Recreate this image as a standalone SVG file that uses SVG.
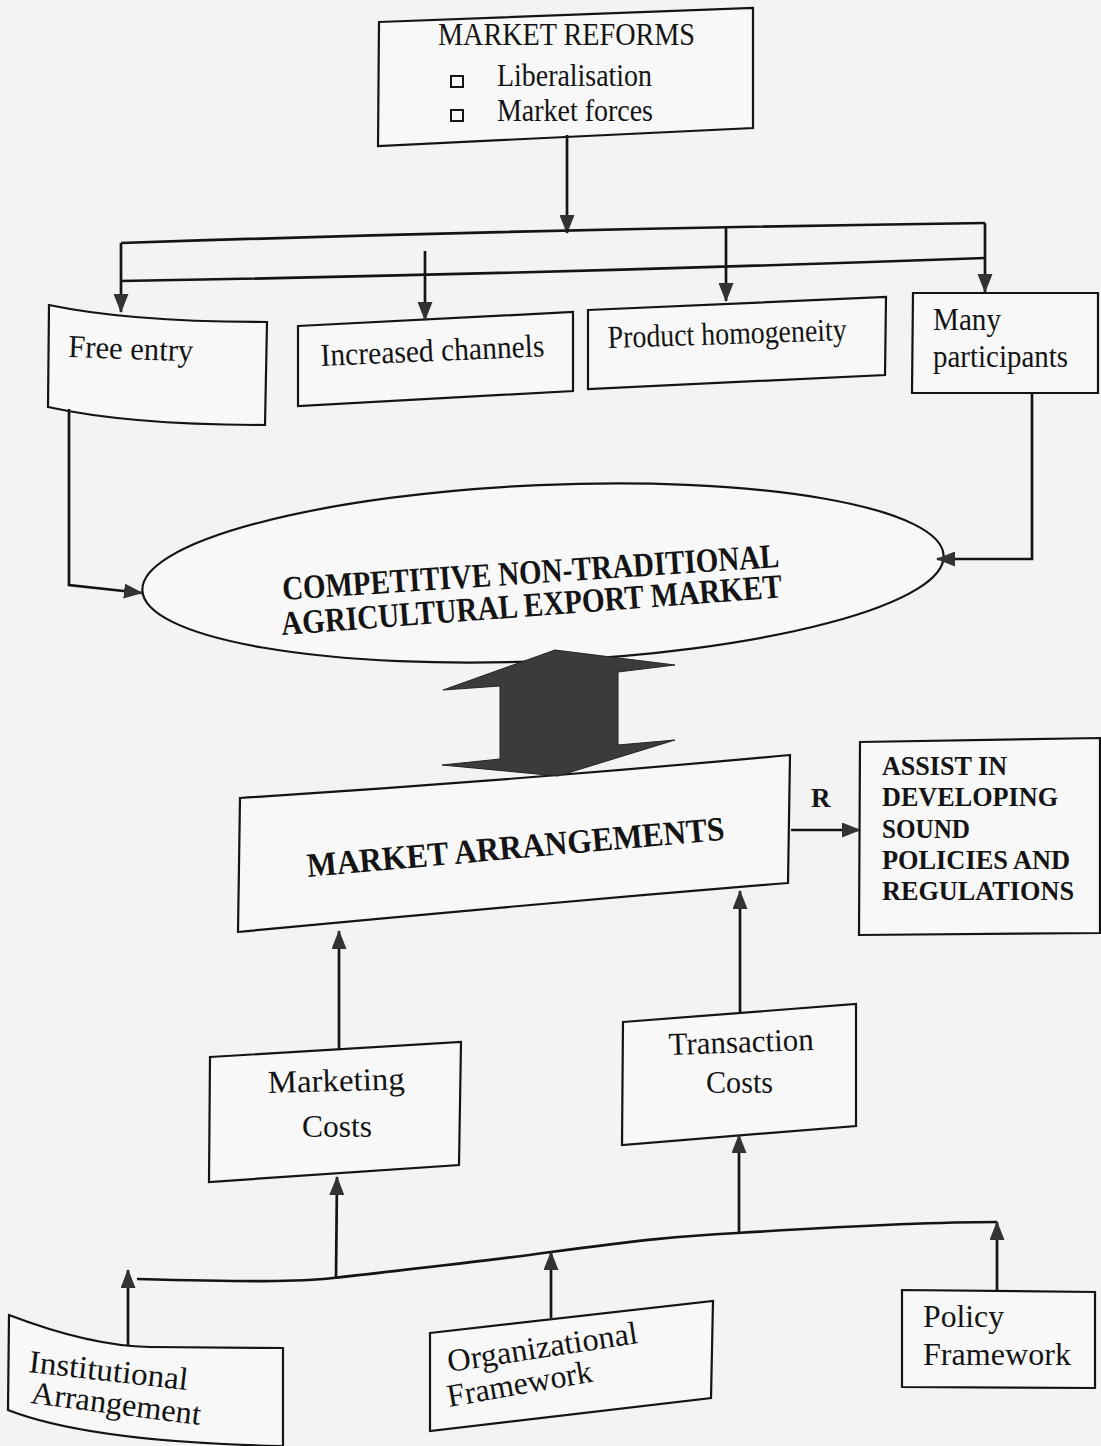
<svg xmlns="http://www.w3.org/2000/svg" width="1101" height="1446" viewBox="0 0 1101 1446">
<defs>
<marker id="ah" markerUnits="userSpaceOnUse" markerWidth="19" markerHeight="15" viewBox="0 0 19 15" refX="18" refY="7.5" orient="auto">
<path d="M0,0 L19,7.5 L0,15 z" fill="#333"/>
</marker>
<style>
.box{fill:#f8f8f8;stroke:#141414;stroke-width:2.2;stroke-linejoin:miter}
.t{font-family:"Liberation Serif","Times New Roman",serif;font-size:32px;fill:#141414}
.b{font-family:"Liberation Serif","Times New Roman",serif;font-weight:bold;fill:#141414}
.c{fill:none;stroke:#141414;stroke-width:2.7}
.a{fill:none;stroke:#141414;stroke-width:2.7;marker-end:url(#ah)}
</style>
</defs>
<rect x="0" y="0" width="1101" height="1446" fill="#f3f3f3"/>

<g id="market-reforms">
<polygon class="box" points="379,22 753,8 753,128 378,146"/>
<text class="t" x="438" y="45" font-size="30" textLength="257" lengthAdjust="spacingAndGlyphs">MARKET REFORMS</text>
<rect x="451" y="76" width="12" height="11" fill="none" stroke="#141414" stroke-width="2"/>
<rect x="451" y="110" width="12" height="11" fill="none" stroke="#141414" stroke-width="2"/>
<text class="t" x="497" y="86" font-size="30" textLength="155" lengthAdjust="spacingAndGlyphs">Liberalisation</text>
<text class="t" x="497" y="121" font-size="30" textLength="156" lengthAdjust="spacingAndGlyphs">Market forces</text>
</g>

<g id="free-entry">
<path class="box" d="M49,305 Q130,322 267,322 L265,425 Q130,425 48,407 Z"/>
<text class="t" x="68" y="357" font-size="35" textLength="125" lengthAdjust="spacingAndGlyphs" transform="rotate(2 68 357)">Free entry</text>
</g>

<g id="increased-channels">
<polygon class="box" points="298,326 573,312 573,391 298,406"/>
<text class="t" x="321" y="366" font-size="32" textLength="224" lengthAdjust="spacingAndGlyphs" transform="rotate(-2.5 321 366)">Increased channels</text>
</g>

<g id="product-homogeneity">
<polygon class="box" points="588,310 886,297 885,375 588,389"/>
<text class="t" x="608" y="348" font-size="31" textLength="239" lengthAdjust="spacingAndGlyphs" transform="rotate(-1.9 608 348)">Product homogeneity</text>
</g>

<g id="many-participants">
<polygon class="box" points="913,293 1098,293 1098,393 912,393"/>
<text class="t" x="933" y="330" font-size="32" textLength="68" lengthAdjust="spacingAndGlyphs">Many</text>
<text class="t" x="933" y="367" font-size="32" textLength="135" lengthAdjust="spacingAndGlyphs">participants</text>
</g>

<g id="competitive-market">
<ellipse class="box" cx="543" cy="573" rx="401" ry="88" transform="rotate(-2.5 543 573)"/>
<text class="b" x="283" y="600" font-size="34" textLength="498" lengthAdjust="spacingAndGlyphs" transform="rotate(-3.8 283 600)">COMPETITIVE NON-TRADITIONAL</text>
<text class="b" x="282" y="635" font-size="34" textLength="502" lengthAdjust="spacingAndGlyphs" transform="rotate(-4.3 282 635)">AGRICULTURAL EXPORT MARKET</text>
</g>

<g id="market-arrangements">
<path class="box" d="M240,798 Q520,780 790,755 L788,883 Q520,905 238,932 Z"/>
<text class="b" x="308" y="877" font-size="34" textLength="419" lengthAdjust="spacingAndGlyphs" transform="rotate(-5.1 308 877)">MARKET ARRANGEMENTS</text>
</g>

<g id="assist">
<polygon class="box" points="860,742 1100,738 1100,933 859,935"/>
<text class="b" x="882" y="775" font-size="27" textLength="125" lengthAdjust="spacingAndGlyphs">ASSIST IN</text>
<text class="b" x="882" y="806" font-size="27" textLength="176" lengthAdjust="spacingAndGlyphs">DEVELOPING</text>
<text class="b" x="882" y="838" font-size="27" textLength="88" lengthAdjust="spacingAndGlyphs">SOUND</text>
<text class="b" x="882" y="869" font-size="27" textLength="188" lengthAdjust="spacingAndGlyphs">POLICIES AND</text>
<text class="b" x="882" y="900" font-size="27" textLength="192" lengthAdjust="spacingAndGlyphs">REGULATIONS</text>
</g>

<g id="marketing-costs">
<polygon class="box" points="210,1057 461,1042 459,1165 209,1182"/>
<text class="t" x="268" y="1093" font-size="33" textLength="137" lengthAdjust="spacingAndGlyphs" transform="rotate(-1.5 268 1093)">Marketing</text>
<text class="t" x="302" y="1137" font-size="33" textLength="70" lengthAdjust="spacingAndGlyphs">Costs</text>
</g>

<g id="transaction-costs">
<polygon class="box" points="623,1022 856,1004 856,1126 622,1145"/>
<text class="t" x="669" y="1055" font-size="33" textLength="145" lengthAdjust="spacingAndGlyphs" transform="rotate(-2 669 1055)">Transaction</text>
<text class="t" x="706" y="1093" font-size="33" textLength="67" lengthAdjust="spacingAndGlyphs">Costs</text>
</g>

<g id="institutional-arrangement">
<path class="box" d="M9,1315 Q90,1346 150,1347 L283,1348 L283,1450 L281,1446 Q90,1442 8,1410 Z"/>
<text class="t" x="28" y="1372" font-size="33" textLength="160" lengthAdjust="spacingAndGlyphs" transform="rotate(6.5 28 1372)">Institutional</text>
<text class="t" x="30" y="1403" font-size="33" textLength="171" lengthAdjust="spacingAndGlyphs" transform="rotate(7.4 30 1403)">Arrangement</text>
</g>

<g id="organizational-framework">
<polygon class="box" points="430,1333 713,1301 711,1398 430,1431"/>
<text class="t" x="449" y="1372" font-size="33" textLength="192" lengthAdjust="spacingAndGlyphs" transform="rotate(-8.7 449 1372)">Organizational</text>
<text class="t" x="449" y="1407" font-size="33" textLength="147" lengthAdjust="spacingAndGlyphs" transform="rotate(-10 449 1407)">Framework</text>
</g>

<g id="policy-framework">
<polygon class="box" points="902,1290 1095,1292 1095,1388 902,1387"/>
<text class="t" x="923" y="1327" font-size="33" textLength="81" lengthAdjust="spacingAndGlyphs">Policy</text>
<text class="t" x="923" y="1365" font-size="33" textLength="148" lengthAdjust="spacingAndGlyphs">Framework</text>
</g>

<g id="connectors">
<line class="a" x1="567" y1="135" x2="567" y2="233"/>
<path class="c" d="M121,243 Q540,229 985,223"/>
<path class="c" d="M121,281 Q540,274 985,258"/>
<line class="a" x1="121" y1="243" x2="121" y2="312"/>
<line class="a" x1="425" y1="251" x2="425" y2="320"/>
<line class="a" x1="726" y1="227" x2="726" y2="301"/>
<line class="a" x1="985" y1="223" x2="985" y2="292"/>
<path class="a" d="M69,409 L69,585 L142,593"/>
<path class="a" d="M1032,393 L1032,559 L937,559"/>
<polygon points="555,650 675,665 618,672 618,745 675,740 558,776 442,765 500,759 500,686 443,690" fill="#3b3b3b" stroke="#242424" stroke-width="1"/>
<line class="a" x1="791" y1="830" x2="860" y2="830"/>
<text class="b" x="811" y="807" font-size="27">R</text>
<line class="a" x1="339" y1="1050" x2="339" y2="931"/>
<line class="a" x1="740" y1="1012" x2="740" y2="891"/>
<path class="c" d="M137,1279 C250,1282 300,1282 333,1278 C420,1268 480,1262 551,1252 C640,1240 680,1236 737,1233 C850,1226 930,1222 997,1222"/>
<line class="a" x1="128" y1="1345" x2="128" y2="1270"/>
<line class="a" x1="336" y1="1278" x2="337" y2="1177"/>
<line class="a" x1="551" y1="1318" x2="551" y2="1252"/>
<line class="a" x1="739" y1="1233" x2="739" y2="1135"/>
<line class="a" x1="997" y1="1291" x2="997" y2="1222"/>
</g>
</svg>
